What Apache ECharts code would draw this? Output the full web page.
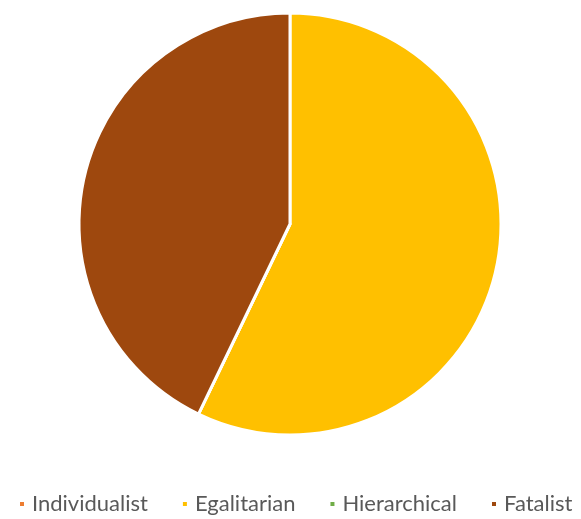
<!DOCTYPE html>
<html><head><meta charset="utf-8">
<script src="https://cdn.jsdelivr.net/npm/echarts@6/dist/echarts.min.js"></script>
<style>html,body{margin:0;padding:0;background:#fff}#c{width:581px;height:519px}</style>
</head><body><div id="c"></div>
<script>
const categories = ['Individualist', 'Egalitarian', 'Hierarchical', 'Fatalist'];
const values = [0, 4, 0, 3];
const colors = ['#ED7D31', '#FFC000', '#70AD47', '#9E480E'];

const chart = echarts.init(document.getElementById('c'));
chart.setOption({
  animation: false,
  color: colors,
  legend: {
    data: categories,
    left: 13, top: 488,
    icon: 'rect', itemWidth: 6, itemHeight: 6, itemGap: 33,
    textStyle: { color: '#595959', fontSize: 22, fontFamily: 'Lato', padding: [0, 0, 0, 2] }
  },
  series: [{
    type: 'pie',
    center: [290, 224],
    radius: 211,
    startAngle: 90,
    clockwise: true,
    label: { show: false },
    labelLine: { show: false },
    itemStyle: { borderColor: '#fff', borderWidth: 3 },
    data: categories.map((n, i) => ({ name: n, value: values[i] }))
  }]
});
</script></body></html>
